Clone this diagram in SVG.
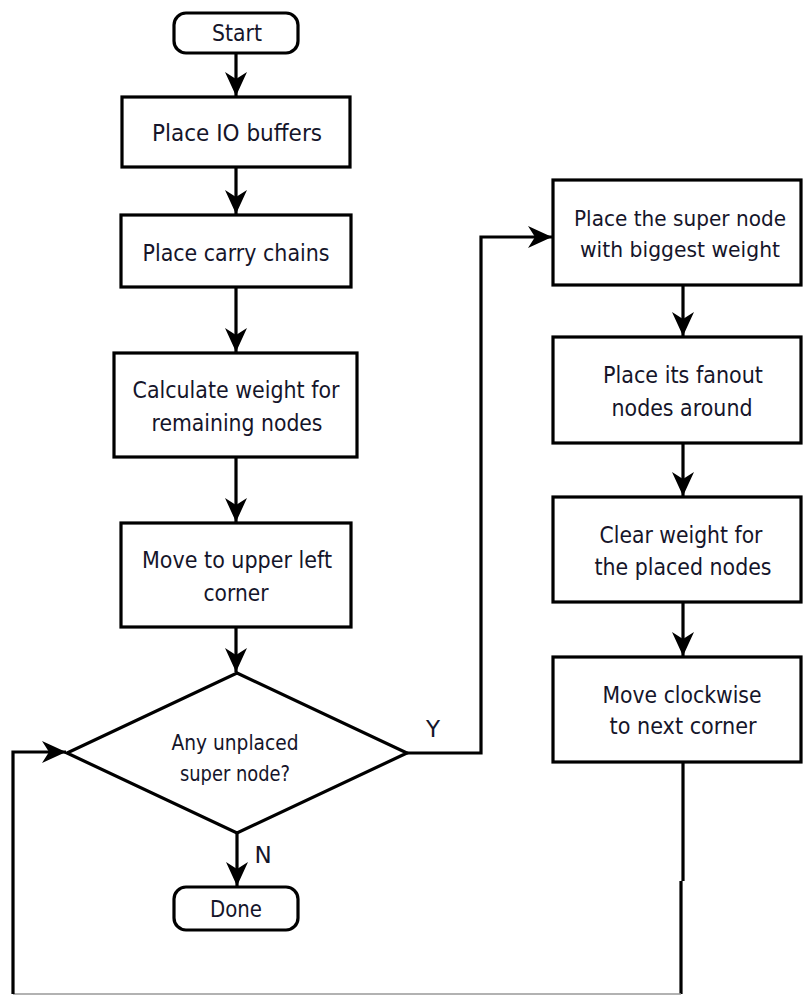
<svg xmlns="http://www.w3.org/2000/svg" width="803" height="995" viewBox="0 0 803 995">
<style>
.box{fill:#fff;stroke:#000;stroke-width:3.2}
.t{font-family:"DejaVu Sans",sans-serif;font-size:23px;fill:#15152a;text-anchor:middle}
.s{font-size:21px}
.ln{fill:none;stroke:#000;stroke-width:3.2}
</style>
<defs>
<marker id="ah" markerUnits="userSpaceOnUse" markerWidth="26" markerHeight="24" viewBox="-24 -12 26 24" refX="0" refY="0" orient="auto">
<path d="M0,0 L-24,-11 L-17,0 L-24,11 Z" fill="#000"/>
</marker>
</defs>
<rect width="803" height="995" fill="#fff"/>
<g id="connectors">
<line class="ln" x1="236" y1="53" x2="236" y2="96" marker-end="url(#ah)"/>
<line class="ln" x1="236" y1="167" x2="236" y2="214" marker-end="url(#ah)"/>
<line class="ln" x1="236" y1="287" x2="236" y2="352" marker-end="url(#ah)"/>
<line class="ln" x1="236" y1="457" x2="236" y2="522" marker-end="url(#ah)"/>
<line class="ln" x1="236" y1="627" x2="236" y2="672" marker-end="url(#ah)"/>
<line class="ln" x1="237" y1="833" x2="237" y2="886" marker-end="url(#ah)"/>
<polyline class="ln" points="407,753 481,753 481,237 552,237" marker-end="url(#ah)"/>
<line class="ln" x1="683" y1="285" x2="683" y2="336" marker-end="url(#ah)"/>
<line class="ln" x1="683" y1="443" x2="683" y2="496" marker-end="url(#ah)"/>
<line class="ln" x1="683" y1="602" x2="683" y2="656" marker-end="url(#ah)"/>
<polyline class="ln" points="683,762 683,881"/>
<polyline class="ln" points="681,881 681,994"/>
<line x1="13" y1="994" x2="681" y2="994" stroke="#999" stroke-width="1.5"/>
<polyline class="ln" points="13,994 13,752 66,752" marker-end="url(#ah)"/>
<text class="t" x="433" y="737">Y</text>
<text class="t" x="263" y="863">N</text>
</g>
<g id="start">
<rect class="box" x="174" y="13" width="124" height="40" rx="12"/>
<text class="t" x="237" y="41" textLength="50" lengthAdjust="spacingAndGlyphs">Start</text>
</g>
<g id="io">
<rect class="box" x="122" y="97" width="228" height="70"/>
<text class="t" x="237" y="141" textLength="170" lengthAdjust="spacingAndGlyphs">Place IO buffers</text>
</g>
<g id="carry">
<rect class="box" x="121" y="215" width="230" height="72"/>
<text class="t" x="236" y="261" textLength="187" lengthAdjust="spacingAndGlyphs">Place carry chains</text>
</g>
<g id="weight">
<rect class="box" x="114" y="353" width="243" height="104"/>
<text class="t" x="236" y="398" textLength="207" lengthAdjust="spacingAndGlyphs">Calculate weight for</text>
<text class="t" x="237" y="431" textLength="171" lengthAdjust="spacingAndGlyphs">remaining nodes</text>
</g>
<g id="move">
<rect class="box" x="121" y="523" width="230" height="104"/>
<text class="t" x="237" y="568" textLength="190" lengthAdjust="spacingAndGlyphs">Move to upper left</text>
<text class="t" x="236" y="601" textLength="65" lengthAdjust="spacingAndGlyphs">corner</text>
</g>
<g id="decision">
<polygon class="box" points="237,673 407,753 237,833 67,753"/>
<text class="t s" x="235" y="750" textLength="127" lengthAdjust="spacingAndGlyphs">Any unplaced</text>
<text class="t s" x="235" y="781" textLength="110" lengthAdjust="spacingAndGlyphs">super node?</text>
</g>
<g id="done">
<rect class="box" x="174" y="887" width="124" height="43" rx="12"/>
<text class="t" x="236" y="917" textLength="52" lengthAdjust="spacingAndGlyphs">Done</text>
</g>
<g id="placesuper">
<rect class="box" x="553" y="180" width="248" height="105"/>
<text class="t" x="680" y="226" style="font-size:21px" textLength="212" lengthAdjust="spacingAndGlyphs">Place the super node</text>
<text class="t" x="680" y="257" style="font-size:21px" textLength="200" lengthAdjust="spacingAndGlyphs">with biggest weight</text>
</g>
<g id="fanout">
<rect class="box" x="553" y="337" width="248" height="106"/>
<text class="t" x="683" y="383" textLength="160" lengthAdjust="spacingAndGlyphs">Place its fanout</text>
<text class="t" x="682" y="416" textLength="141" lengthAdjust="spacingAndGlyphs">nodes around</text>
</g>
<g id="clear">
<rect class="box" x="553" y="497" width="248" height="105"/>
<text class="t" x="681" y="543" textLength="163" lengthAdjust="spacingAndGlyphs">Clear weight for</text>
<text class="t" x="683" y="575" textLength="177" lengthAdjust="spacingAndGlyphs">the placed nodes</text>
</g>
<g id="clockwise">
<rect class="box" x="553" y="657" width="248" height="105"/>
<text class="t" x="682" y="703" textLength="159" lengthAdjust="spacingAndGlyphs">Move clockwise</text>
<text class="t" x="683" y="734" textLength="147" lengthAdjust="spacingAndGlyphs">to next corner</text>
</g>
</svg>
